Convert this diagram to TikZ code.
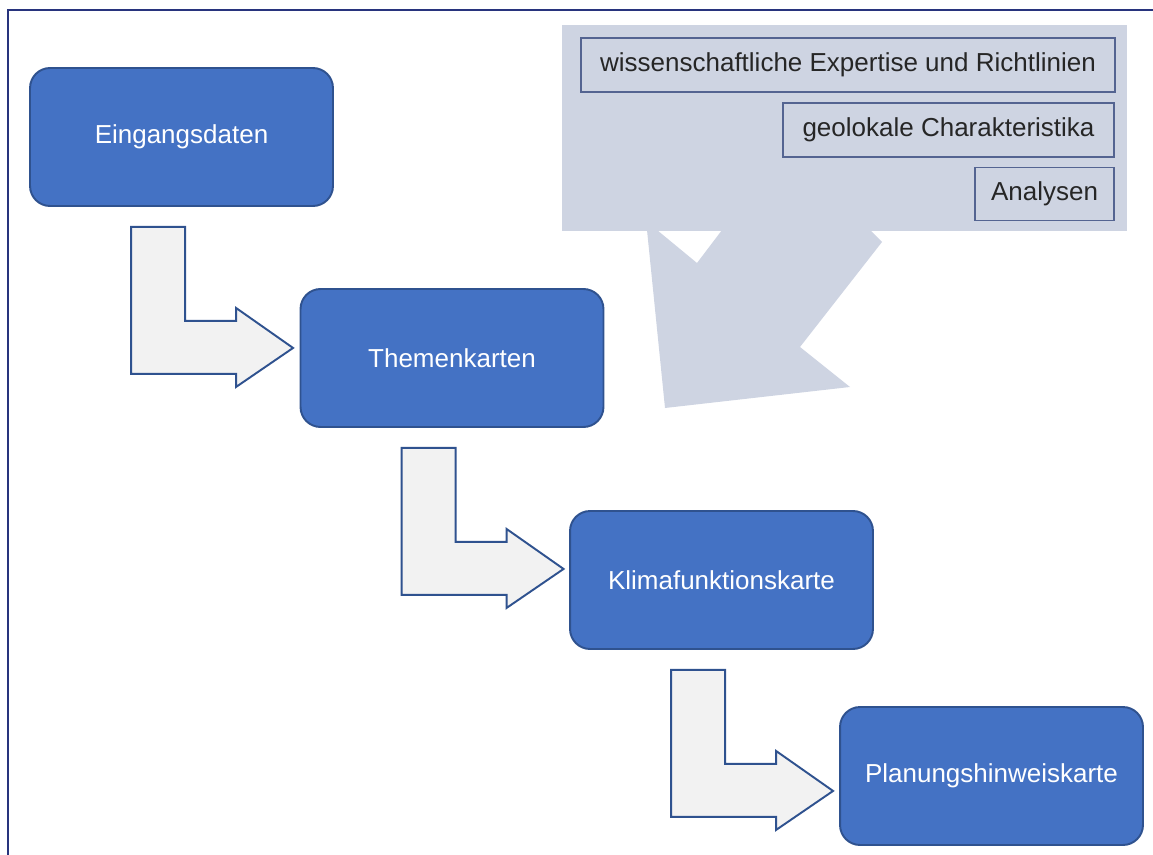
\documentclass[tikz,border=0pt]{standalone}
\usepackage{fontspec}
\setmainfont{Liberation Sans}
\usetikzlibrary{calc}

\definecolor{boxblue}{RGB}{68,114,196}
\definecolor{boxline}{RGB}{47,82,143}
\definecolor{arrowfill}{RGB}{242,242,242}
\definecolor{calloutgray}{RGB}{206,212,226}
\definecolor{sourceline}{RGB}{84,100,145}
\definecolor{frameblue}{RGB}{40,52,125}
\definecolor{darktext}{RGB}{38,38,38}

\tikzset{
    stage/.style={draw=boxline, line width=1.1pt, fill=boxblue, rounded corners=0.4cm,
        minimum width=6.06cm, minimum height=2.76cm, text=white,
        font=\fontsize{14.8}{17}\selectfont},
    source/.style={draw=sourceline, line width=0.9pt, fill=calloutgray,
        minimum height=1.08cm, inner sep=0pt, text=darktext,
        font=\fontsize{14.8}{17}\selectfont},
    bentarrow/.style={draw=boxline, line width=1.1pt, fill=arrowfill, line join=miter}
}

\begin{document}
\begin{tikzpicture}[x=0.02cm, y=-0.02cm]
    \useasboundingbox (0,0) rectangle (1153,855);

    % frame
    \draw[frameblue, line width=1.5pt] (8,855) -- (8,10) -- (1153,10);

    % callout with the three sources
    \fill[calloutgray] (562,25) rectangle (1127,231);
    \fill[calloutgray]
        (647,230) -- (665,408) -- (850,387) -- (800,347) -- (882,242)
        -- (870,230) -- (722,230) -- (697,263) -- (657,230) -- cycle;

    \node[source, minimum width=10.68cm] (expertise) at (848,65)
        {wissenschaftliche Expertise und Richtlinien};
    \node[source, minimum width=6.62cm] (geolokal) at (948.5,130)
        {geolokale Charakteristika};
    \node[source, minimum width=2.78cm, minimum height=1.06cm] (analysen) at (1044.5,194)
        {Analysen};

    % stages
    \node[stage] (eingang) at (181.5,137) {Eingangsdaten};
    \node[stage] (themen) at (452,358) {Themenkarten};
    \node[stage] (klima) at (721.5,580) {Klimafunktionskarte};
    \node[stage] (planung) at (991.5,776) {Planungshinweiskarte};

    % bent block arrows
    \foreach \from in {eingang, themen, klima} {
        \begin{scope}[shift={($(\from.south west)+(102,20)$)}]
            \draw[bentarrow]
                (0,0) -- (54,0) -- (54,94) -- (105,94) -- (105,81)
                -- (162,121) -- (105,160) -- (105,147) -- (0,147) -- cycle;
        \end{scope}
    }
\end{tikzpicture}
\end{document}
